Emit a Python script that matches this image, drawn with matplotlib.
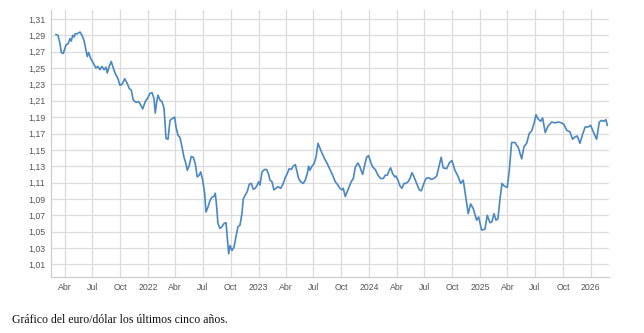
import numpy as np
import pandas as pd
import matplotlib
matplotlib.use("Agg")
import matplotlib.pyplot as plt
import matplotlib.dates as mdates

# fecha en años decimales
years = [
    2021.169, 2021.187, 2021.205, 2021.217, 2021.235, 2021.259, 2021.280, 2021.295, 2021.307, 2021.320,
    2021.332, 2021.343, 2021.361, 2021.386, 2021.404, 2021.422, 2021.440, 2021.452, 2021.464, 2021.482,
    2021.506, 2021.530, 2021.548, 2021.566, 2021.584, 2021.603, 2021.621, 2021.632, 2021.650, 2021.668,
    2021.687, 2021.705, 2021.729, 2021.747, 2021.765, 2021.790, 2021.813, 2021.831, 2021.849, 2021.867,
    2021.892, 2021.916, 2021.934, 2021.952, 2021.976, 2022.000, 2022.018, 2022.036, 2022.054, 2022.066,
    2022.079, 2022.090, 2022.108, 2022.126, 2022.145, 2022.156, 2022.163, 2022.181, 2022.199, 2022.217,
    2022.241, 2022.253, 2022.271, 2022.289, 2022.307, 2022.325, 2022.343, 2022.355, 2022.373, 2022.391,
    2022.409, 2022.427, 2022.445, 2022.463, 2022.476, 2022.494, 2022.512, 2022.524, 2022.542, 2022.560,
    2022.578, 2022.596, 2022.608, 2022.621, 2022.632, 2022.650, 2022.668, 2022.687, 2022.705, 2022.716,
    2022.729, 2022.741, 2022.759, 2022.777, 2022.795, 2022.813, 2022.831, 2022.849, 2022.861, 2022.879,
    2022.897, 2022.915, 2022.933, 2022.951, 2022.969, 2022.987, 2023.000, 2023.012, 2023.030, 2023.054,
    2023.072, 2023.090, 2023.102, 2023.120, 2023.138, 2023.156, 2023.174, 2023.199, 2023.222, 2023.240,
    2023.258, 2023.276, 2023.294, 2023.313, 2023.331, 2023.343, 2023.361, 2023.379, 2023.403, 2023.421,
    2023.439, 2023.451, 2023.463, 2023.481, 2023.500, 2023.518, 2023.536, 2023.554, 2023.572, 2023.596,
    2023.620, 2023.644, 2023.668, 2023.692, 2023.716, 2023.734, 2023.752, 2023.764, 2023.782, 2023.800,
    2023.818, 2023.836, 2023.855, 2023.873, 2023.897, 2023.915, 2023.939, 2023.957, 2023.975, 2023.993,
    2024.012, 2024.030, 2024.053, 2024.078, 2024.102, 2024.126, 2024.144, 2024.162, 2024.180, 2024.192,
    2024.210, 2024.229, 2024.240, 2024.258, 2024.276, 2024.294, 2024.313, 2024.331, 2024.349, 2024.367,
    2024.385, 2024.397, 2024.415, 2024.433, 2024.451, 2024.469, 2024.487, 2024.511, 2024.536, 2024.559,
    2024.584, 2024.608, 2024.631, 2024.649, 2024.667, 2024.698, 2024.722, 2024.746, 2024.773, 2024.803,
    2024.825, 2024.848, 2024.873, 2024.893, 2024.915, 2024.939, 2024.969, 2024.987, 2025.014, 2025.044,
    2025.065, 2025.089, 2025.107, 2025.126, 2025.144, 2025.162, 2025.180, 2025.198, 2025.216, 2025.246,
    2025.264, 2025.285, 2025.315, 2025.345, 2025.376, 2025.397, 2025.421, 2025.444, 2025.466, 2025.487,
    2025.505, 2025.523, 2025.547, 2025.565, 2025.589, 2025.613, 2025.647, 2025.677, 2025.707, 2025.737,
    2025.758, 2025.782, 2025.812, 2025.836, 2025.860, 2025.878, 2025.902, 2025.926, 2025.950, 2025.977,
    2025.999, 2026.023, 2026.053, 2026.077, 2026.098, 2026.119, 2026.137, 2026.149,
]

eurusd = [
    1.291, 1.290, 1.280, 1.269, 1.268, 1.278, 1.280, 1.286, 1.283, 1.290,
    1.288, 1.292, 1.292, 1.294, 1.290, 1.284, 1.272, 1.264, 1.269, 1.262,
    1.256, 1.250, 1.252, 1.248, 1.252, 1.248, 1.251, 1.244, 1.252, 1.258,
    1.250, 1.243, 1.237, 1.229, 1.230, 1.237, 1.231, 1.225, 1.223, 1.211,
    1.208, 1.209, 1.205, 1.200, 1.209, 1.214, 1.219, 1.220, 1.213, 1.195,
    1.209, 1.217, 1.211, 1.209, 1.201, 1.178, 1.164, 1.163, 1.186, 1.188,
    1.190, 1.178, 1.168, 1.165, 1.154, 1.141, 1.133, 1.125, 1.131, 1.142,
    1.141, 1.133, 1.117, 1.119, 1.123, 1.113, 1.097, 1.074, 1.080, 1.088,
    1.092, 1.093, 1.097, 1.080, 1.060, 1.054, 1.056, 1.060, 1.061, 1.044,
    1.023, 1.033, 1.027, 1.031, 1.044, 1.056, 1.058, 1.072, 1.090, 1.095,
    1.099, 1.108, 1.109, 1.102, 1.103, 1.107, 1.111, 1.107, 1.123, 1.126,
    1.126, 1.120, 1.113, 1.111, 1.101, 1.103, 1.105, 1.103, 1.109, 1.116,
    1.121, 1.127, 1.126, 1.130, 1.132, 1.125, 1.115, 1.111, 1.109, 1.113,
    1.121, 1.130, 1.125, 1.130, 1.133, 1.141, 1.158, 1.152, 1.146, 1.139,
    1.133, 1.126, 1.119, 1.111, 1.107, 1.103, 1.101, 1.103, 1.093, 1.099,
    1.105, 1.111, 1.115, 1.129, 1.134, 1.129, 1.120, 1.131, 1.141, 1.143,
    1.135, 1.129, 1.126, 1.119, 1.115, 1.115, 1.119, 1.119, 1.125, 1.128,
    1.121, 1.117, 1.118, 1.113, 1.106, 1.103, 1.109, 1.109, 1.111, 1.115,
    1.122, 1.119, 1.113, 1.107, 1.101, 1.100, 1.107, 1.115, 1.116, 1.114,
    1.115, 1.118, 1.131, 1.141, 1.128, 1.127, 1.134, 1.137, 1.125, 1.117,
    1.109, 1.113, 1.090, 1.072, 1.084, 1.078, 1.064, 1.068, 1.052, 1.053,
    1.070, 1.061, 1.062, 1.072, 1.064, 1.066, 1.090, 1.109, 1.106, 1.104,
    1.125, 1.159, 1.159, 1.153, 1.139, 1.154, 1.158, 1.170, 1.173, 1.182,
    1.193, 1.188, 1.185, 1.189, 1.171, 1.179, 1.184, 1.183, 1.184, 1.183,
    1.181, 1.174, 1.172, 1.163, 1.166, 1.167, 1.158, 1.169, 1.178, 1.178,
    1.180, 1.172, 1.163, 1.184, 1.186, 1.185, 1.187, 1.180,
]

y_ticks = [1.01, 1.03, 1.05, 1.07, 1.09, 1.11, 1.13, 1.15, 1.17, 1.19, 1.21, 1.23, 1.25, 1.27, 1.29, 1.31]
x_ticks = ["2021-04-01", "2021-07-01", "2021-10-01", "2022-01-01", "2022-04-01", "2022-07-01",
           "2022-10-01", "2023-01-01", "2023-04-01", "2023-07-01", "2023-10-01", "2024-01-01",
           "2024-04-01", "2024-07-01", "2024-10-01", "2025-01-01", "2025-04-01", "2025-07-01",
           "2025-10-01", "2026-01-01"]
x_labels = ["Abr", "Jul", "Oct", "2022", "Abr", "Jul", "Oct", "2023", "Abr", "Jul", "Oct", "2024",
            "Abr", "Jul", "Oct", "2025", "Abr", "Jul", "Oct", "2026"]
caption = "Gráfico del euro/dólar los últimos cinco años."


def to_date(y):
    y = np.asarray(y, dtype=float)
    base = pd.Timestamp("2022-01-01")
    return base + pd.to_timedelta((y - 2022.0) * 365.25, unit="D")


fig = plt.figure(figsize=(6.44, 3.33), dpi=100)
ax = fig.add_axes([0.0792, 0.168, 0.8665, 0.802])

ax.plot(to_date(years), eurusd, color="#4a88c4", linewidth=1.2)

ax.set_xlim(to_date([2021.124])[0], to_date([2026.165])[0])
ax.set_ylim(0.9945, 1.321)

ax.set_yticks(y_ticks)
ax.set_yticklabels([f"{v:.2f}".replace(".", ",") for v in y_ticks])
ax.set_xticks(pd.to_datetime(x_ticks))
ax.set_xticklabels(x_labels)

ax.grid(True, color="#dcdcdc", linewidth=0.9)
ax.set_axisbelow(True)
for side in ["top", "right"]:
    ax.spines[side].set_visible(False)
for side in ["left", "bottom"]:
    ax.spines[side].set_color("#cfcfcf")
    ax.spines[side].set_linewidth(0.9)
ax.tick_params(axis="both", length=0, labelsize=6.3, labelcolor="#555555", pad=4)
for lab in ax.get_xticklabels() + ax.get_yticklabels():
    lab.set_fontfamily("Liberation Sans")

fig.text(12 / 644, 1 - 320 / 333, caption, fontsize=8.5, family="Liberation Serif",
         color="#111111", va="center", ha="left")

fig.savefig("out.png", dpi=100)
